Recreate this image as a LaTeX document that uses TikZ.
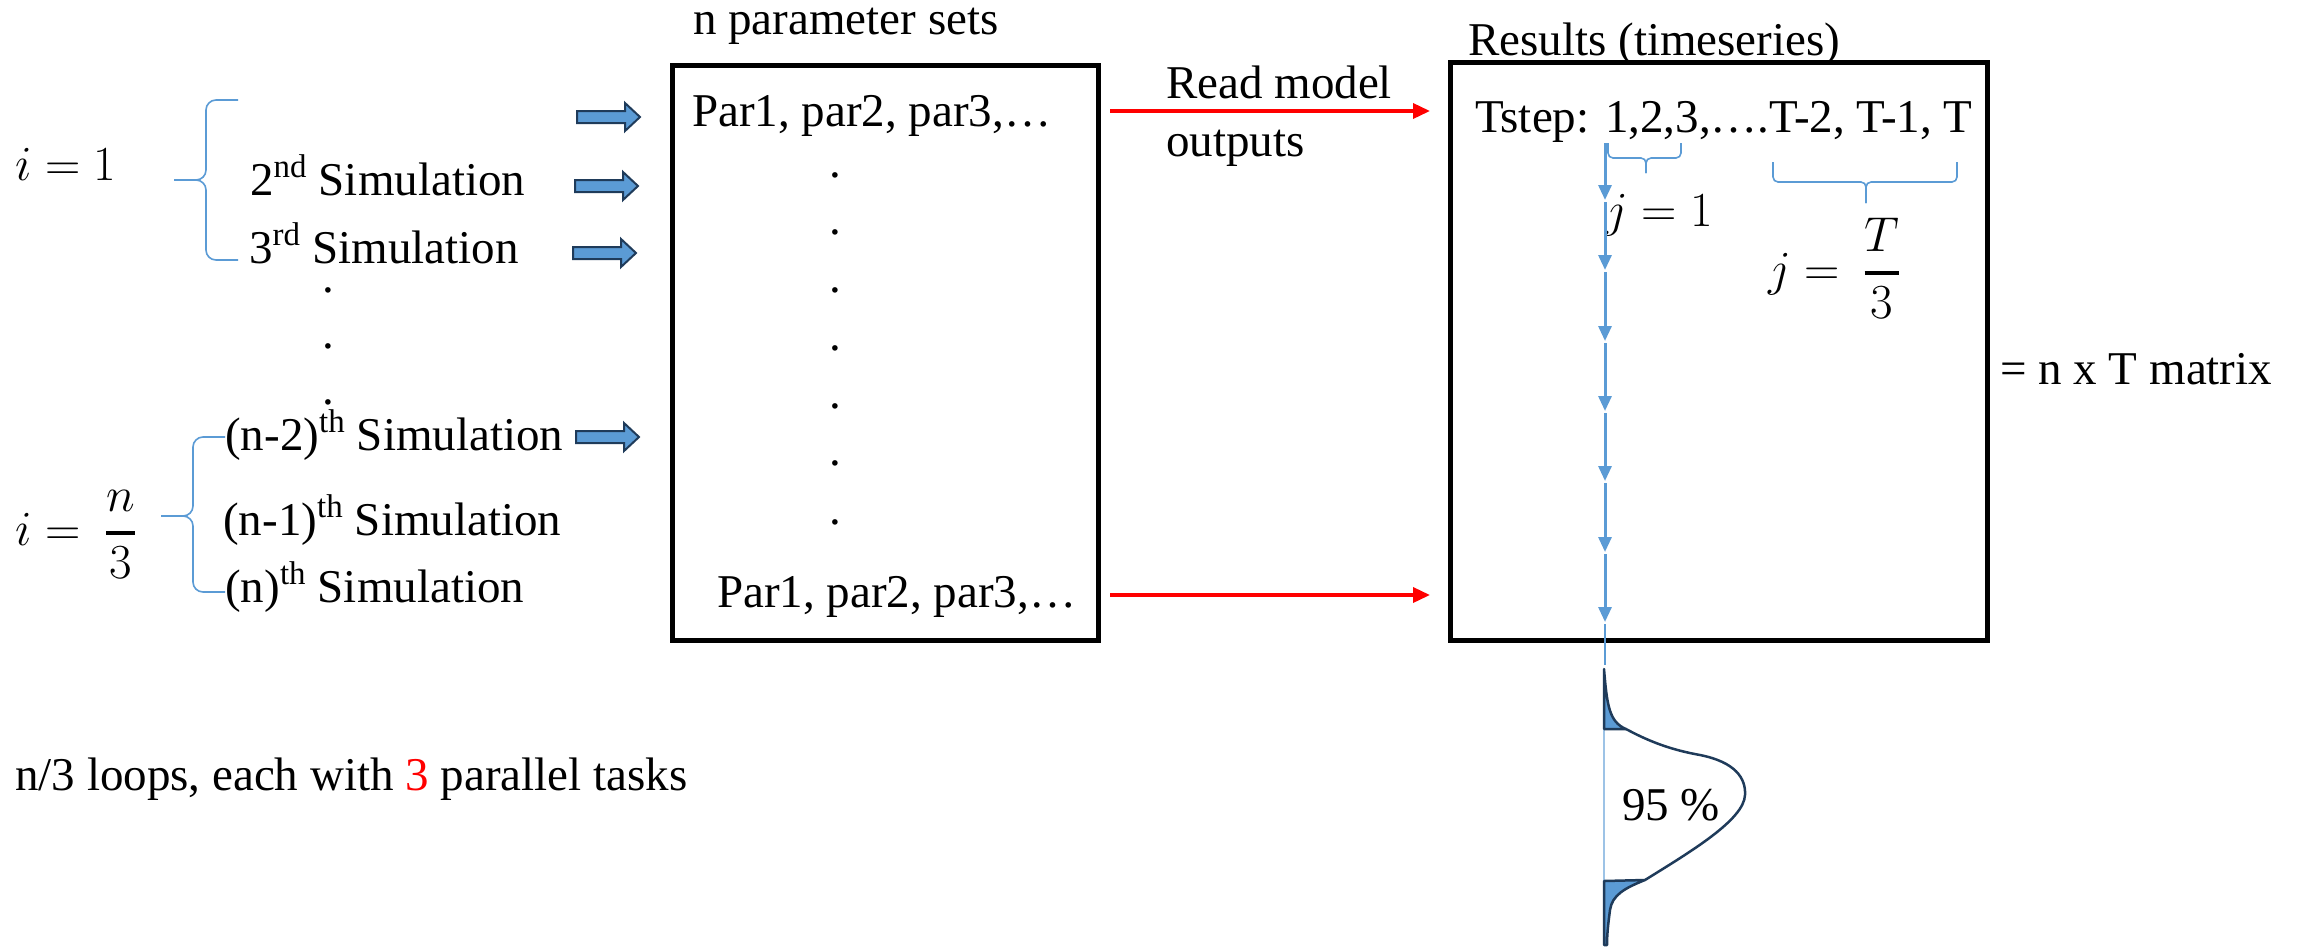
\RequirePackage{fix-cm}
\documentclass[tikz,border=0pt]{standalone}
\usepackage{amsmath}
\usepackage{fontspec}
\setmainfont{Liberation Serif}
\usetikzlibrary{arrows.meta}
\definecolor{lblue}{HTML}{5B9BD5}
\definecolor{navy}{HTML}{1F3B5A}
\definecolor{paleblue}{HTML}{9DC3E6}
% display fraction with a heavier bar
\newcommand{\thickfrac}[2]{\genfrac{}{}{3.5pt}{0}{#1}{#2}}

\begin{document}
\begin{tikzpicture}[x=1pt,y=-1pt,
  txt/.style={inner sep=0,anchor=base west,font=\fontsize{47}{56}\selectfont},
  mth/.style={inner sep=0,anchor=base west,font=\fontsize{49}{58}\selectfont},
  dotnode/.style={inner sep=0,anchor=center,font=\fontsize{47}{56}\selectfont},
  frame/.style={draw=black,line width=5pt,inner sep=0},
  vbrace/.style={draw=lblue,line width=1.6pt,rounded corners=10pt},
  hbrace/.style={draw=lblue,line width=1.6pt,rounded corners=5pt},
  redarr/.style={red,line width=3.5pt,-{Triangle[length=17pt,width=15pt]}},
  chain/.style={lblue,line width=3pt,-{Triangle[length=15pt,width=13pt]}},
  barrow/.style={fill=lblue,draw=navy,line width=2pt,line join=miter},
  bell/.style={draw=navy,line width=2.5pt},
  tail/.style={fill=lblue,draw=navy,line width=2.5pt,line join=round},
  blockarrow/.pic={\path[barrow] (0,-6) -- (48,-6) -- (48,-14) -- (63,0) -- (48,14) -- (48,6) -- (0,6) -- cycle;},
]
\useasboundingbox (0,0) rectangle (2305,946);

% loop indices and their braces
\node[mth] (ione) at (15,180) {$i = 1$};
\node[mth] (ilast) at (15,545) {$i = \hspace{11pt}\thickfrac{n}{3}$};
\draw[vbrace] (238,100) -- (206,100) -- (206,180) -- (174,180);
\draw[vbrace] (238,260) -- (206,260) -- (206,180) -- (174,180);
\draw[vbrace] (225,437) -- (193,437) -- (193,516) -- (161,516);
\draw[vbrace] (225,592) -- (193,592) -- (193,516) -- (161,516);

% simulations
\node[txt] (sim2) at (250,195) {2\textsuperscript{nd} Simulation};
\node[txt] (sim3) at (249,263) {3\textsuperscript{rd} Simulation};
\node[dotnode] (d1) at (328,290) {.};
\node[dotnode] (d2) at (328,346) {.};
\node[dotnode] (d3) at (328,402) {.};
\node[txt] (simn2) at (225,450) {(n-2)\textsuperscript{th} Simulation};
\node[txt] (simn1) at (223,535) {(n-1)\textsuperscript{th} Simulation};
\node[txt] (simn) at (225,602) {(n)\textsuperscript{th} Simulation};

% block arrows into the parameter table
\pic at (577,117) {blockarrow};
\pic at (575,186) {blockarrow};
\pic at (573,253) {blockarrow};
\pic at (576,437) {blockarrow};

% parameter sets
\node[txt] (ptitle) at (693,34) {n parameter sets};
\node[frame,minimum width=426pt,minimum height=575pt] (params) at (885,352.5) {};
\node[txt] (partop) at (692,126) {Par1, par2, par3,…};
\foreach \y [count=\k] in {175,232,290,348,406,463,522}
  \node[dotnode] (pd\k) at (835,\y) {.};
\node[txt] (parbot) at (717,607) {Par1, par2, par3,…};

% model outputs
\coordinate (r1s) at (1110,111);
\coordinate (r1e) at (1430,111);
\coordinate (r2s) at (1110,595);
\coordinate (r2e) at (1430,595);
\draw[redarr] (r1s) -- (r1e);
\draw[redarr] (r2s) -- (r2e);
\node[txt] (read) at (1166,98) {Read model};
\node[txt] (outp) at (1166,156) {outputs};

% results table
\node[txt] (rtitle) at (1468,55) {Results (timeseries)};
\node[frame,minimum width=537pt,minimum height=578pt] (results) at (1718.5,351) {};
\node[txt] (tstep) at (1475,132) {Tstep: 1,2,3,….T-2, T-1, T};
\draw[hbrace] (1608,143) -- (1608,158) -- (1646,158) -- (1646,173);
\draw[hbrace] (1681,143) -- (1681,158) -- (1646,158) -- (1646,173);
\draw[hbrace] (1773,162) -- (1773,182) -- (1866,182) -- (1866,203);
\draw[hbrace] (1957,162) -- (1957,182) -- (1866,182) -- (1866,203);
\node[mth] (jone) at (1605,226) {$j = 1$};
\node[mth] (jlast) at (1768,285) {$j = \hspace{10pt}\thickfrac{T}{3}$};
\node[txt] (matrix) at (2000,384) {= n x T matrix};

% time steps, one arrow per step
\coordinate (t0) at (1605,143);
\coordinate (t1) at (1605,200);
\coordinate (t1b) at (1605,202);
\coordinate (t2) at (1605,270);
\coordinate (t2b) at (1605,272);
\coordinate (t3) at (1605,341);
\coordinate (t3b) at (1605,343);
\coordinate (t4) at (1605,411);
\coordinate (t4b) at (1605,413);
\coordinate (t5) at (1605,481);
\coordinate (t5b) at (1605,483);
\coordinate (t6) at (1605,552);
\coordinate (t6b) at (1605,554);
\coordinate (t7) at (1605,622);
\coordinate (t7b) at (1605,624);
\coordinate (t8) at (1605,665);
\draw[chain] (t0) -- (t1);
\draw[chain] (t1b) -- (t2);
\draw[chain] (t2b) -- (t3);
\draw[chain] (t3b) -- (t4);
\draw[chain] (t4b) -- (t5);
\draw[chain] (t5b) -- (t6);
\draw[chain] (t6b) -- (t7);
\draw[lblue,line width=2pt] (t7b) -- (t8);

% distribution of the last time step
\draw[paleblue,line width=2pt] (1604,669) -- (1604,946);
\path[tail] (1604,669) .. controls (1607,705) and (1609,722) .. (1626,729) -- (1604,729) -- cycle;
\draw[bell] (1626,729) .. controls (1650,742) and (1672,750) .. (1700,755)
  .. controls (1735,762) and (1746,778) .. (1745,795)
  .. controls (1744,820) and (1690,852) .. (1645,880);
\path[tail] (1645,880) .. controls (1625,888) and (1612,895) .. (1610,910)
  .. controls (1608,925) and (1607,935) .. (1607,945) -- (1604,945) -- (1604,881) -- cycle;
\node[txt] (pct) at (1622,820) {95 \%};

% summary line
\node[txt] (loops) at (15,790) {n/3 loops, each with {\color{red}3} parallel tasks};
\end{tikzpicture}
\end{document}
